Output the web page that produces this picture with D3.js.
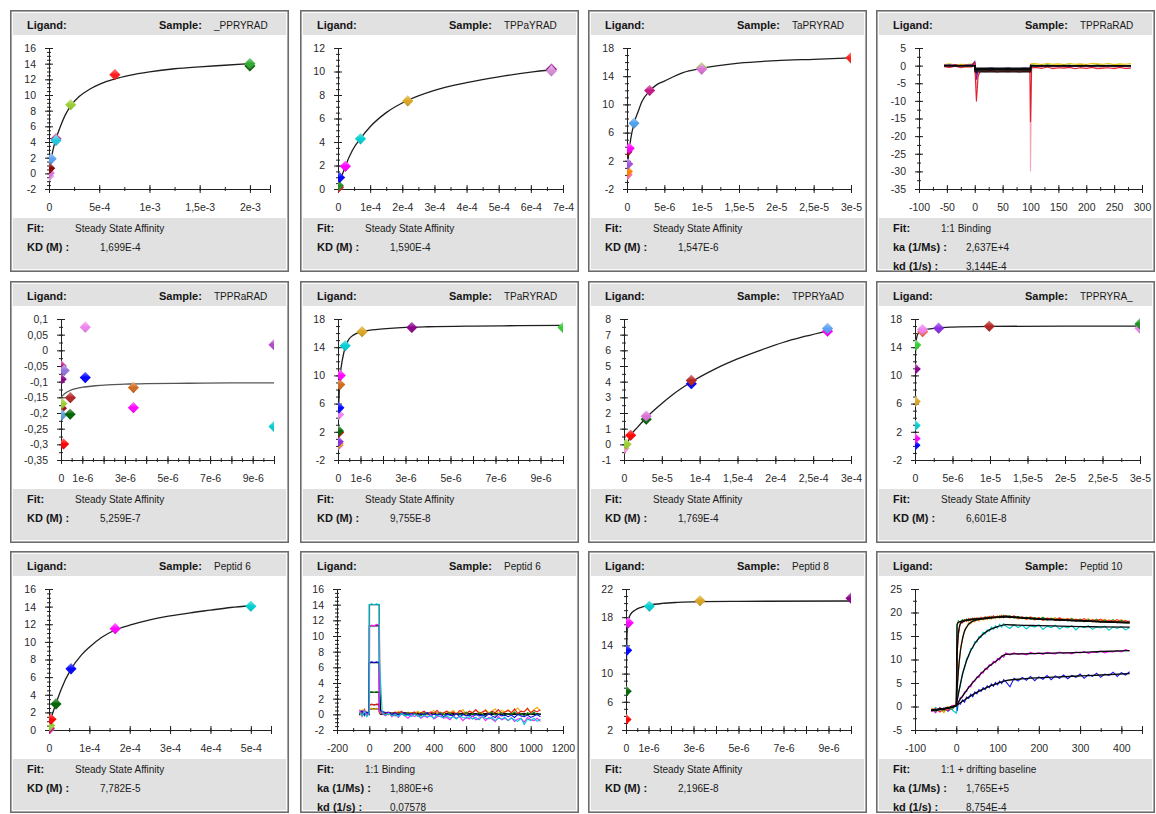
<!DOCTYPE html>
<html lang="en">
<head>
<meta charset="utf-8">
<title>Affinity and kinetics overview</title>
<script src="https://d3js.org/d3.v7.min.js"></script>
<style>
  body { margin: 0; background: #fff; }
  svg { font-family: 'Liberation Sans', Arial, sans-serif; }
  .lbl { font-weight: bold; font-size: 11px; fill: #151515; }
  .val { font-size: 10px; fill: #1a1a1a; }
</style>
</head>
<body>
<svg id="chart" width="1156" height="814"></svg>
<script>
// ---------- shared tick labels ----------
var ticksConc1e6 = [0, 1e-6, 3e-6, 5e-6, 7e-6, 9e-6];
var labelsConc1e6 = ["0", "1e-6", "3e-6", "5e-6", "7e-6", "9e-6"];
var ticksConc3e5 = [0, 5e-6, 1e-5, 1.5e-5, 2e-5, 2.5e-5, 3e-5];
var labelsConc3e5 = ["0", "5e-6", "1e-5", "1,5e-5", "2e-5", "2,5e-5", "3e-5"];
var ticksY18 = [-2, 2, 6, 10, 14, 18];

// ---------- panel 1 : _PPRYRAD ----------
var p1Conc = [2e-3, 2e-3, 6.56e-4, 2.16e-4, 7e-5, 7e-5, 2.2e-5, 7e-6, 2e-6, 0];
var p1Resp = [14.0, 13.7, 12.6, 8.75, 4.2, 4.4, 1.85, 0.65, 0.05, -0.35];
var p1FitConc = [0, 5e-6, 2e-5, 4e-5, 7e-5, 1.2e-4, 1.6e-4, 2.16e-4, 3e-4, 4e-4, 5e-4, 6.56e-4, 8e-4, 1e-3, 1.25e-3, 1.5e-3, 1.75e-3, 2e-3];
var p1FitResp = [0, 0.45, 1.7, 3.0, 4.4, 6.2, 7.4, 8.6, 9.8, 10.7, 11.35, 12.05, 12.5, 12.95, 13.35, 13.6, 13.8, 14.0];
var p1XTicks = [0, 5e-4, 1e-3, 1.5e-3, 2e-3];
var p1XLabels = ["0", "5e-4", "1e-3", "1,5e-3", "2e-3"];
var p1YTicks = [-2, 0, 2, 4, 6, 8, 10, 12, 14, 16];

// ---------- panel 2 : TPPaYRAD ----------
var p2Conc = [6.64e-4, 6.64e-4, 2.17e-4, 7e-5, 2.3e-5, 5e-6, 1e-6, 2e-6];
var p2Resp = [10.05, 10.2, 7.5, 4.27, 1.93, 0.98, 0.3, 0.15];
var p2FitConc = [0, 5e-6, 2.3e-5, 4.5e-5, 7e-5, 1e-4, 1.5e-4, 2.17e-4, 3e-4, 4e-4, 5e-4, 6e-4, 6.64e-4];
var p2FitResp = [0, 0.5, 1.95, 3.3, 4.3, 5.3, 6.5, 7.55, 8.4, 9.05, 9.55, 9.95, 10.15];
var p2XTicks = [0, 1e-4, 2e-4, 3e-4, 4e-4, 5e-4, 6e-4, 7e-4];
var p2XLabels = ["0", "1e-4", "2e-4", "3e-4", "4e-4", "5e-4", "6e-4", "7e-4"];
var p2YTicks = [0, 2, 4, 6, 8, 10, 12];

// ---------- panel 3 : TaPRYRAD ----------
var p3Conc = [3e-5, 1e-5, 1e-5, 3.03e-6, 9.4e-7, 3e-7, 0, 1e-7, 5e-8, 2e-8];
var p3Resp = [16.6, 15.0, 15.2, 11.97, 7.33, 3.77, 3.3, 1.55, 0.5, 0.03];
var p3FitConc = [0, 5e-8, 1.5e-7, 3e-7, 5e-7, 9.4e-7, 1.5e-6, 2e-6, 3.03e-6, 4e-6, 5e-6, 7.5e-6, 1e-5, 1.5e-5, 2e-5, 2.5e-5, 3e-5];
var p3FitResp = [0, 0.8, 2.2, 3.6, 5.1, 7.3, 9.0, 10.4, 11.9, 12.8, 13.3, 14.5, 15.1, 15.85, 16.2, 16.4, 16.6];

// ---------- panel 4 : TPPRaRAD (kinetics) ----------
var p4Time = [-55, -45, -35, -25, -15, -5, 0, 3, 6, 10, 20, 30, 40, 50, 60, 70, 80, 90, 99, 100, 102,
  110, 120, 130, 140, 150, 160, 170, 180, 190, 200, 210, 220, 230, 240, 250, 260, 270, 280];
var p4Pink = [-0.1, -0.4, 0.0, -0.3, -0.2, -0.1, 0.3, -6.5, -2.5, -1.5, -1.5, -1.4, -1.6, -1.5, -1.4, -1.6, -1.5, -1.4, -1.5, -30, -0.4,
  -0.3, -0.5, -0.2, -0.6, -0.4, -0.3, -0.6, -0.2, -0.5, -0.4, -0.3, -0.6, -0.4, -0.2, -0.5, -0.4, -0.3, -0.5];
var p4Green = [0.1, 0.3, 0.0, 0.2, 0.1, 0.3, 0.5, -2.0, -1.4, -1.2, -1.2, -1.3, -1.1, -1.2, -1.3, -1.1, -1.2, -1.3, -1.2, 0.0, 0.2,
  0.1, 0.0, 0.2, 0.1, 0.0, 0.2, 0.1, 0.0, 0.2, 0.1, 0.0, 0.2, 0.1, 0.0, 0.2, 0.1, 0.0, 0.1];
var p4Yellow = [0.3, 0.5, 0.2, 0.4, 0.3, 0.5, 0.9, -1.5, -1.1, -1.0, -1.0, -1.1, -0.9, -1.0, -1.1, -0.9, -1.0, -1.1, -1.0, 0.3, 0.6,
  0.5, 0.3, 0.6, 0.4, 0.5, 0.3, 0.6, 0.4, 0.5, 0.3, 0.6, 0.5, 0.4, 0.6, 0.3, 0.5, 0.4, 0.6];
var p4Blue = [0.0, 0.2, -0.1, 0.1, 0.0, 0.2, 0.8, -2.5, -1.0, -0.8, -0.8, -0.7, -0.9, -0.8, -0.7, -0.9, -0.8, -0.7, -0.8, -0.2, 0.0,
  -0.1, 0.1, -0.2, 0.0, -0.1, 0.1, -0.2, 0.0, -0.1, 0.1, -0.2, 0.0, -0.1, 0.1, -0.2, 0.0, -0.1, 0.0];
var p4Purple = [0.2, 0.0, 0.3, -0.1, 0.2, 0.1, 1.2, -4.0, -1.2, -0.9, -1.0, -0.9, -1.1, -1.0, -0.9, -1.1, -1.0, -0.9, -1.0, 0.2, 0.1,
  0.0, -0.2, 0.1, -0.1, 0.0, -0.2, 0.1, -0.1, -0.2, 0.0, -0.1, 0.1, -0.2, 0.0, -0.1, -0.2, 0.0, -0.1];
var p4Red = [-0.3, -0.5, -0.2, -0.6, -0.3, -0.4, 0.6, -10.2, -3.0, -1.6, -1.7, -1.5, -1.8, -1.6, -1.7, -1.5, -1.8, -1.6, -1.7, -16, -0.6,
  -0.5, -0.8, -0.4, -0.9, -0.6, -0.7, -0.5, -0.9, -0.6, -0.8, -0.5, -0.9, -0.7, -0.6, -0.9, -0.5, -0.8, -0.7];
var p4FitTime = [-55, 0, 0.5, 100, 100.5, 280];
var p4Fit1 = [0, 0, -0.7, -0.7, 0, 0];
var p4Fit2 = [0, 0, -0.9, -0.9, 0, 0];
var p4Fit3 = [0, 0, -1.1, -1.1, 0, 0];
var p4Fit4 = [0, 0, -1.3, -1.3, 0, 0];
var p4Fit5 = [0, 0, -1.8, -1.8, 0, 0];
var p4XTicks = [-100, -50, 0, 50, 100, 150, 200, 250, 300];
var p4YTicks = [-35, -30, -25, -20, -15, -10, -5, 0, 5];

// ---------- panel 5 : TPPRaRAD (affinity) ----------
var p5Conc = [1.14e-6, 1e-5, 1e-5, 1.14e-6, 3.4e-6, 3.4e-6, 4.4e-7, 4.3e-7, 1.2e-7, 4e-8, 4e-8, 2e-8, 1.5e-7, 1e-8, 1e-8];
var p5Resp = [0.074, 0.018, -0.243, -0.087, -0.119, -0.183, -0.151, -0.204, -0.299, -0.206, -0.17, -0.185, -0.064, -0.05, -0.092];
var p5FitConc = [0, 1e-7, 2e-7, 4e-7, 7e-7, 1.1e-6, 1.6e-6, 2.2e-6, 3e-6, 4e-6, 6e-6, 8e-6, 1e-5];
var p5FitResp = [-0.15, -0.143, -0.137, -0.129, -0.122, -0.117, -0.113, -0.11, -0.108, -0.106, -0.105, -0.104, -0.104];
var p5YTicks = [-0.35, -0.3, -0.25, -0.2, -0.15, -0.1, -0.05, 0, 0.05, 0.1];
var p5YLabels = ["-0,35", "-0,3", "-0,25", "-0,2", "-0,15", "-0,1", "-0,05", "0", "0,05", "0,1"];

// ---------- panel 6 : TPaRYRAD ----------
var p6Conc = [1e-5, 3.28e-6, 1.07e-6, 3.2e-7, 1e-7, 8e-8, 4e-8, 3e-8, 2e-8, 3e-8, 1e-8, 1e-8, 0];
var p6Resp = [16.8, 16.8, 16.2, 14.2, 10.0, 8.7, 5.4, 4.45, 2.1, 1.9, 0.6, 0.3, 0.1];
var p6FitConc = [0, 1e-8, 3e-8, 6e-8, 1e-7, 2e-7, 3.2e-7, 5e-7, 7e-7, 1.07e-6, 1.5e-6, 2e-6, 3e-6, 4e-6, 6e-6, 8e-6, 1e-5];
var p6FitResp = [1.0, 2.5, 5.5, 8.0, 10.0, 12.3, 14.0, 15.2, 15.75, 16.2, 16.45, 16.6, 16.8, 16.9, 17.0, 17.05, 17.1];

// ---------- panel 7 : TPPRYaAD ----------
var p7Conc = [2.69e-4, 2.69e-4, 8.9e-5, 8.9e-5, 2.94e-5, 2.94e-5, 8.8e-6, 2.7e-6, 0];
var p7Resp = [7.4, 7.22, 4.08, 3.87, 1.8, 1.6, 0.58, 0.01, -0.26];
var p7FitConc = [0, 3e-6, 8.8e-6, 1.8e-5, 2.94e-5, 4.5e-5, 6.5e-5, 8.9e-5, 1.2e-4, 1.5e-4, 1.8e-4, 2.1e-4, 2.4e-4, 2.69e-4];
var p7FitResp = [-0.3, -0.1, 0.55, 1.1, 1.7, 2.4, 3.2, 3.98, 4.8, 5.45, 6.0, 6.5, 6.9, 7.25];
var p7XTicks = [0, 5e-5, 1e-4, 1.5e-4, 2e-4, 2.5e-4, 3e-4];
var p7XLabels = ["0", "5e-5", "1e-4", "1,5e-4", "2e-4", "2,5e-4", "3e-4"];
var p7YTicks = [-1, 0, 1, 2, 3, 4, 5, 6, 7, 8];

// ---------- panel 8 : TPPRYRA_ ----------
var p8Conc = [3e-5, 3e-5, 9.9e-6, 3.15e-6, 1e-6, 1.02e-6, 1e-7, 4e-8, 3e-8, 2e-8, 1e-8, 0];
var p8Resp = [17.3, 16.7, 16.97, 16.7, 16.5, 16.2, 14.3, 10.9, 6.3, 2.9, 1.05, 0.1];
var p8FitConc = [0, 1e-8, 3e-8, 6e-8, 1e-7, 2e-7, 3e-7, 6e-7, 1e-6, 2e-6, 3.15e-6, 5e-6, 1e-5, 2e-5, 3e-5];
var p8FitResp = [0.5, 4, 9, 12.5, 14.1, 15.2, 15.7, 16.2, 16.4, 16.6, 16.75, 16.85, 16.95, 17.0, 17.0];

// ---------- panel 9 : Peptid 6 (affinity) ----------
var p9Conc = [5e-4, 1.64e-4, 5.45e-5, 1.74e-5, 5e-6, 2e-6, 1e-6, 0];
var p9Resp = [14.04, 11.5, 6.94, 2.96, 1.22, 0.5, 0.2, 0.05];
var p9FitConc = [0, 5e-6, 1.74e-5, 3e-5, 5.45e-5, 8e-5, 1e-4, 1.3e-4, 1.64e-4, 2e-4, 2.5e-4, 3e-4, 3.5e-4, 4e-4, 4.5e-4, 5e-4];
var p9FitResp = [0, 1.2, 3.0, 4.6, 6.9, 8.5, 9.4, 10.5, 11.35, 11.9, 12.5, 12.95, 13.3, 13.6, 13.9, 14.1];
var p9XTicks = [0, 1e-4, 2e-4, 3e-4, 4e-4, 5e-4];
var p9XLabels = ["0", "1e-4", "2e-4", "3e-4", "4e-4", "5e-4"];
var p9YTicks = [0, 2, 4, 6, 8, 10, 12, 14, 16];

// ---------- panel 10 : Peptid 6 (kinetics) ----------
var p10Time = [-60, -45, -30, -15, 0, 0, 15, 30, 45, 62, 62,
  80, 100, 120, 140, 160, 180, 200, 220, 240, 260, 280, 300, 320, 340, 360, 380, 400, 420, 440, 460, 480,
  500, 520, 540, 560, 580, 600, 620, 640, 660, 680, 700, 720, 740, 760, 780, 800, 820, 840, 860, 880,
  900, 920, 940, 960, 980, 1000, 1020, 1040, 1060];
var p10Orange = [-0.2, 0.3, 0.7, 0.0, 0.4, 0.7, 0.8, 0.6, 0.8, 0.7, 0.2,
  0.1, 0.3, -0.1, 0.2, 0.0, 0.4, 0.1, -0.1, 0.3, 0.2, 0.0, 0.4, 0.1, 0.3, -0.1, 0.2, 0.5, 0.1, 0.3, 0.0,
  0.4, 0.2, 0.5, 0.1, 0.3, 0.6, 0.0, 0.4, 0.2, 0.5, 0.3, 0.1, 0.6, 0.2, 0.4, 0.7, 0.1, 0.5, 0.3, 0.6,
  0.2, 0.5, 0.8, 0.3, 0.4, 0.7, 0.2, 0.6, 0.9, 0.4];
var p10Red = [0.6, 0.0, 0.5, -0.1, 0.3, 1.2, 1.3, 1.2, 1.3, 1.3, 0.4,
  0.3, 0.0, 0.2, -0.1, 0.3, 0.1, 0.4, 0.0, 0.2, 0.1, 0.3, -0.1, 0.2, 0.4, 0.0, 0.3, 0.1, 0.5, 0.0, 0.2,
  0.4, 0.1, 0.3, 0.0, 0.5, 0.2, 0.1, 0.4, 0.2, 0.6, 0.1, 0.3, 0.5, 0.0, 0.4, 0.2, 0.6, 0.1, 0.3, 0.5,
  0.2, 0.7, 0.1, 0.4, 0.3, 0.8, 0.2, 0.5, 0.3, 0.6];
var p10Green = [0.1, 0.5, -0.2, 0.3, 0.1, 2.8, 2.9, 2.8, 2.9, 2.8, 0.3,
  0.1, -0.1, 0.2, 0.0, -0.2, 0.1, 0.0, -0.1, 0.2, -0.1, 0.1, 0.0, -0.2, 0.2, 0.0, -0.1, 0.1, -0.2, 0.2, 0.0,
  -0.1, 0.2, -0.2, 0.1, 0.0, -0.1, 0.3, -0.2, 0.1, -0.1, 0.2, 0.0, -0.2, 0.1, 0.3, -0.1, 0.0, 0.2, -0.2, 0.1,
  0.0, 0.3, -0.1, 0.1, -0.2, 0.2, 0.0, 0.3, -0.1, 0.1];
var p10Blue = [0.2, 0.4, -0.1, 0.3, 0.0, 6.6, 6.7, 6.6, 6.7, 6.6, 0.6,
  0.4, 0.2, 0.3, 0.0, 0.2, -0.1, 0.1, 0.2, -0.1, 0.1, 0.0, -0.2, 0.1, -0.1, 0.2, -0.2, 0.0, -0.1, 0.1, -0.3,
  0.0, -0.1, -0.2, 0.1, -0.3, 0.0, -0.2, -0.1, -0.3, 0.0, -0.2, -0.1, -0.3, 0.1, -0.2, -0.4, 0.0, -0.2, -0.1, -0.3,
  -0.1, -0.4, 0.0, -0.2, -0.3, -0.1, -0.4, -0.2, 0.0, -0.3];
var p10Magenta = [0.5, -0.3, 0.6, -0.2, 0.2, 11.2, 11.4, 11.3, 11.5, 11.4, 0.3,
  0.1, -0.2, 0.2, -0.3, 0.0, -0.4, 0.1, -0.2, -0.5, 0.0, -0.3, -0.1, -0.5, -0.2, -0.4, 0.0, -0.6, -0.3, -0.2, -0.5,
  -0.4, -0.7, -0.2, -0.5, -0.3, -0.8, -0.4, -0.6, -0.2, -0.7, -0.5, -0.3, -0.8, -0.4, -0.6, -0.9, -0.3, -0.7, -0.5, -0.8,
  -0.4, -0.9, -0.6, -0.5, -1.0, -0.4, -0.7, -0.8, -0.5, -0.9];
var p10Cyan = [0.3, -0.2, 0.4, -0.3, 0.1, 14.0, 14.1, 14.0, 14.1, 14.0, 7.3,
  0.2, -0.1, 0.1, -0.2, 0.0, -0.3, 0.1, -0.2, -0.1, -0.3, 0.0, -0.2, -0.4, -0.1, -0.3, -0.2, -0.5, -0.1, -0.3, -0.4,
  -0.2, -0.5, -0.3, -0.6, -0.2, -0.4, -0.5, -0.3, -0.6, -0.4, -0.7, -0.3, -0.5, -0.6, -0.4, -0.8, -0.5, -0.6, -0.4, -0.8,
  -0.5, -0.7, -0.9, -0.5, -1.3, -0.6, -0.8, -0.5, -0.9, -0.6];
var p10FitTime = [-60, 0, 1, 62, 64, 68, 75, 1060];
var p10Fit1 = [0, 0, 14.0, 14.0, 3.0, 0.8, 0.2, 0];
var p10Fit2 = [0, 0, 11.3, 11.3, 2.4, 0.6, 0.15, 0];
var p10Fit3 = [0, 0, 6.6, 6.6, 1.4, 0.4, 0.1, 0];
var p10Fit4 = [0, 0, 2.8, 2.8, 0.6, 0.2, 0.05, 0];
var p10Fit5 = [0, 0, 1.25, 1.25, 0.3, 0.1, 0, 0];
var p10Fit6 = [0, 0, 0.7, 0.7, 0.15, 0.05, 0, 0];
var p10XTicks = [-200, 0, 200, 400, 600, 800, 1000, 1200];
var p10YTicks = [-2, 0, 2, 4, 6, 8, 10, 12, 14, 16];

// ---------- panel 11 : Peptid 8 ----------
var p11Conc = [1e-5, 3.29e-6, 1.04e-6, 1e-7, 3e-8, 1e-8, 0];
var p11Resp = [20.7, 20.34, 19.55, 17.2, 13.3, 7.5, 3.5];
var p11FitConc = [0, 5e-9, 1e-8, 2e-8, 4e-8, 8e-8, 2e-7, 4e-7, 6.7e-7, 1.04e-6, 1.6e-6, 2.3e-6, 3.3e-6, 5e-6, 1e-5];
var p11FitResp = [2.5, 5, 8, 11.5, 15, 17.4, 18.4, 19.0, 19.4, 19.7, 19.95, 20.1, 20.2, 20.25, 20.3];
var p11YTicks = [2, 6, 10, 14, 18, 22];

// ---------- panel 12 : Peptid 10 (kinetics) ----------
var p12Time = [-60, -50, -40, -30, -20, -10, 0,
  2, 5, 10, 15, 20, 25, 30, 35, 40, 45, 50, 55, 60, 65, 70, 75, 80, 85, 90, 95, 100, 105, 110, 115, 120,
  130, 140, 150, 160, 170, 180, 190, 200, 210, 220, 230, 240, 250, 260, 270, 280, 290, 300,
  310, 320, 330, 340, 350, 360, 370, 380, 390, 400, 410, 420];
var p12Blue = [-1.1, -0.5, -0.9, -0.3, -1.0, -0.2, 0.1,
  -1.0, 0.8, 0.5, 1.4, 0.9, 2.0, 1.7, 2.6, 2.1, 3.1, 2.7, 3.6, 3.2, 4.0, 3.6, 4.4, 4.0, 4.8, 4.3, 5.1, 4.6, 5.4, 4.9, 5.7, 5.3,
  4.2, 6.0, 5.4, 6.2, 5.6, 6.4, 5.5, 6.3, 5.8, 6.6, 5.7, 6.5, 6.0, 6.7, 5.9, 6.6, 6.2, 6.9, 6.0, 6.8,
  6.4, 7.1, 6.2, 6.9, 6.6, 7.3, 6.4, 7.2, 6.7, 7.4];
var p12Magenta = [-0.6, -1.3, -0.2, -0.8, -0.5, 0.2, 0.3,
  0.7, 0.6, 1.9, 2.0, 3.1, 3.2, 4.3, 4.2, 5.3, 5.4, 6.3, 6.2, 7.3, 7.1, 8.1, 7.9, 8.9, 8.7, 9.6, 9.3, 10.2, 9.9, 10.8, 10.5, 11.4,
  11.0, 11.4, 11.1, 11.3, 11.0, 11.5, 11.2, 11.4, 11.1, 11.5, 11.3, 11.2, 11.6, 11.3, 11.5, 11.2, 11.6, 11.4, 11.7, 11.3,
  11.6, 11.5, 11.8, 11.4, 11.7, 11.6, 11.9, 11.6, 12.1, 11.8];
var p12Cyan = [-0.9, -0.2, -1.0, -0.6, -0.1, -0.7, -1.4,
  1.0, 2.9, 4.5, 7.1, 8.1, 10.2, 10.6, 12.3, 12.4, 13.8, 13.7, 14.9, 14.7, 15.8, 15.4, 16.3, 16.0, 16.9, 16.4, 17.2, 16.7, 17.5, 16.9, 17.6, 17.1,
  16.6, 17.4, 16.8, 17.3, 16.5, 17.2, 16.9, 17.4, 16.4, 17.1, 16.8, 17.3, 16.5, 17.0, 16.7, 17.2, 16.3, 17.1, 16.8, 17.2,
  16.4, 16.9, 16.7, 17.1, 16.2, 16.9, 16.6, 17.0, 16.3, 16.8];
var p12Orange = [-0.3, -0.9, -0.5, -1.3, 0.0, -0.4, 0.4,
  3.9, 7.2, 12.1, 14.1, 16.3, 16.7, 17.8, 17.6, 18.4, 18.0, 18.7, 18.2, 18.9, 18.4, 19.0, 18.5, 19.1, 18.6, 19.2, 18.7, 19.3, 18.8, 19.2, 18.9, 19.3,
  18.8, 19.2, 18.6, 19.0, 18.5, 19.1, 18.4, 18.9, 18.3, 18.8, 18.5, 18.9, 18.2, 18.7, 18.4, 18.8, 18.1, 18.6, 18.3, 18.7,
  18.0, 18.5, 18.2, 18.6, 17.9, 18.4, 18.1, 18.5, 17.8, 18.2];
var p12Red = [-1.0, -0.4, -1.2, -0.5, -0.8, 0.1, 0.2,
  10.8, 15.2, 17.9, 17.8, 18.5, 18.1, 18.7, 18.3, 18.8, 18.4, 18.9, 18.5, 19.0, 18.6, 19.1, 18.7, 19.2, 18.8, 19.3, 18.9, 19.2, 19.0, 19.4, 18.9, 19.3,
  19.0, 19.3, 18.8, 19.1, 18.6, 19.0, 18.5, 18.9, 18.4, 18.8, 18.6, 18.3, 18.9, 18.4, 18.7, 18.2, 18.6, 18.3, 18.7, 18.1,
  18.5, 18.2, 18.6, 18.0, 18.4, 18.1, 18.5, 17.9, 18.3, 18.0];
var p12Green = [-0.5, -1.1, -0.3, -0.9, -0.2, -0.6, 0.3,
  17.3, 18.2, 17.9, 18.5, 18.1, 18.6, 18.2, 18.7, 18.3, 18.8, 18.4, 18.9, 18.5, 18.8, 18.6, 19.1, 18.7, 19.2, 18.8, 19.1, 18.9, 19.3, 19.0, 19.4, 19.1,
  19.3, 18.8, 19.2, 18.7, 19.0, 18.6, 18.9, 18.5, 19.0, 18.4, 18.8, 18.3, 18.7, 18.5, 18.2, 18.7, 18.1, 18.6, 18.0, 18.5,
  18.1, 18.6, 17.9, 18.4, 18.0, 18.5, 17.8, 18.3, 17.9, 18.2];
var p12FitTime = [-60, 0, 2, 5, 10, 15, 20, 30, 45, 60, 80, 100, 120, 150, 200, 250, 300, 350, 420];
var p12Fit1 = [-0.8, 0.2, 17.5, 17.9, 18.1, 18.2, 18.3, 18.5, 18.6, 18.7, 18.9, 19.0, 19.2, 19.0, 18.7, 18.5, 18.3, 18.1, 17.9];
var p12Fit2 = [-0.8, 0.2, 10.5, 15.5, 17.6, 18.0, 18.2, 18.4, 18.6, 18.7, 18.9, 19.0, 19.1, 18.9, 18.6, 18.4, 18.2, 18.0, 17.8];
var p12Fit3 = [-0.8, 0.2, 3.5, 7.5, 11.8, 14.4, 16.0, 17.5, 18.3, 18.6, 18.8, 18.95, 19.05, 18.9, 18.6, 18.4, 18.2, 18.0, 17.8];
var p12Fit4 = [-0.8, 0.2, 1.2, 2.6, 4.8, 6.8, 8.4, 10.9, 13.4, 15.0, 16.3, 17.0, 17.4, 17.3, 17.2, 17.1, 17.0, 16.95, 16.9];
var p12Fit5 = [-0.8, 0.2, 0.5, 0.9, 1.6, 2.2, 2.8, 4.0, 5.6, 7.0, 8.6, 9.9, 11.1, 11.2, 11.3, 11.4, 11.5, 11.7, 11.9];
var p12Fit6 = [-0.8, 0.2, 0.3, 0.5, 0.8, 1.1, 1.4, 2.0, 2.8, 3.5, 4.3, 4.9, 5.5, 5.8, 6.1, 6.3, 6.5, 6.7, 7.0];
var p12XTicks = [-100, 0, 100, 200, 300, 400];
var p12YTicks = [-5, 0, 5, 10, 15, 20, 25];

// ---------- panel setup (layout + styling) ----------
var SSA = "Steady State Affinity";
var panels = [
  { sample: "_PPRYRAD", fit: SSA, params: [["KD (M) :", "1,699E-4"]],
    xDom: [0, 2.2e-3], xPx: [39, 260], xMajor: 5e-4, xMinor: 2.5e-4, xLab: p1XTicks, xLabTxt: p1XLabels,
    yDom: [-2, 16], yMinor: 0.5, yLab: p1YTicks,
    pts: { x: p1Conc, y: p1Resp, c: ["#2ea82e", "#0b600b", "#ff1a1a", "#9acd32", "#20c8e0", "#c7208a", "#5aa0f0", "#8b0000", "#da70d6", "#e8a0e8"] },
    fits: [[p1FitConc, p1FitResp]] },
  { sample: "TPPaYRAD", fit: SSA, params: [["KD (M) :", "1,590E-4"]],
    xDom: [0, 7e-4], xPx: [38, 263], xMajor: 1e-4, xMinor: 5e-5, xLab: p2XTicks, xLabTxt: p2XLabels,
    yDom: [0, 12], yMinor: 0.5, yLab: p2YTicks,
    pts: { x: p2Conc, y: p2Resp, c: ["#d48cd4", "#8b008b", "#daa520", "#00ced1", "#ff00ff", "#0000ff", "#228b22", "#dd2222"] },
    fits: [[p2FitConc, p2FitResp]] },
  { sample: "TaPRYRAD", fit: SSA, params: [["KD (M) :", "1,547E-6"]],
    xDom: [0, 3e-5], xPx: [39, 263], xMajor: 5e-6, xMinor: 2.5e-6, xLab: ticksConc3e5, xLabTxt: labelsConc3e5,
    yDom: [-2, 18], yMinor: 1, yLab: ticksY18,
    pts: { x: p3Conc, y: p3Resp, c: ["#ff1a1a", "#da70d6", "#9acd32", "#c71585", "#4f9fe8", "#ff00ff", "#8b0000", "#a050e0", "#ff7f00", "#ff69b4"] },
    fits: [[p3FitConc, p3FitResp]] },
  { sample: "TPPRaRAD", fit: "1:1 Binding", params: [["ka (1/Ms) :", "2,637E+4"], ["kd (1/s) :", "3,144E-4"]],
    xDom: [-100, 300], xPx: [43, 266], xMajor: 50, xMinor: 25, xLab: p4XTicks,
    yDom: [-35, 5], yMinor: 2.5, yLab: p4YTicks,
    curves: { t: p4Time, ys: [p4Pink, p4Green, p4Yellow, p4Blue, p4Purple, p4Red],
              c: ["#f4a6b4", "#22a022", "#e8c000", "#2020d0", "#8b1a8b", "#e0202c"] },
    sfits: { t: p4FitTime, ys: [p4Fit1, p4Fit2, p4Fit3, p4Fit4, p4Fit5] } },
  { sample: "TPPRaRAD", fit: SSA, params: [["KD (M) :", "5,259E-7"]],
    xDom: [0, 1e-5], xPx: [51, 264], xMajor: 1e-6, xMinor: 5e-7, xLab: ticksConc1e6, xLabTxt: labelsConc1e6,
    yDom: [-0.35, 0.1], yMinor: 0.025, yLab: p5YTicks, yLabTxt: p5YLabels,
    pts: { x: p5Conc, y: p5Resp, c: ["#ee82ee", "#b048c8", "#00ced1", "#0000ff", "#d2691e", "#ff00ff", "#b22222", "#006400", "#ff0000", "#5b9bd5", "#9acd32", "#a01010", "#9370db", "#c71585", "#8b008b"] },
    fits: [[p5FitConc, p5FitResp]], fitColor: "#555" },
  { sample: "TPaRYRAD", fit: SSA, params: [["KD (M) :", "9,755E-8"]],
    xDom: [0, 1e-5], xPx: [38, 263], xMajor: 1e-6, xMinor: 5e-7, xLab: ticksConc1e6, xLabTxt: labelsConc1e6,
    yDom: [-2, 18], yMinor: 1, yLab: ticksY18,
    pts: { x: p6Conc, y: p6Resp, c: ["#32cd32", "#8b008b", "#daa520", "#00ced1", "#ff00ff", "#d2691e", "#0000ff", "#ee82ee", "#006400", "#e01010", "#8a2be2", "#ffa500", "#da70d6"] },
    fits: [[p6FitConc, p6FitResp]] },
  { sample: "TPPRYaAD", fit: SSA, params: [["KD (M) :", "1,769E-4"]],
    xDom: [0, 3e-4], xPx: [36, 263], xMajor: 5e-5, xMinor: 2.5e-5, xLab: p7XTicks, xLabTxt: p7XLabels,
    yDom: [-1, 8], yMinor: 0.5, yLab: p7YTicks,
    pts: { x: p7Conc, y: p7Resp, c: ["#5aa0f0", "#ff00ff", "#b22222", "#0000ff", "#da70d6", "#006400", "#ff0000", "#9acd32", "#ff9ad2"] },
    fits: [[p7FitConc, p7FitResp]] },
  { sample: "TPPRYRA_", fit: SSA, params: [["KD (M) :", "6,601E-8"]],
    xDom: [0, 3e-5], xPx: [39, 264], xMajor: 5e-6, xMinor: 2.5e-6, xLab: ticksConc3e5, xLabTxt: labelsConc3e5,
    yDom: [-2, 18], yMinor: 1, yLab: ticksY18,
    pts: { x: p8Conc, y: p8Resp, c: ["#1f8f1f", "#ee82ee", "#b22222", "#8a2be2", "#ee82ee", "#ff6347", "#32cd32", "#8b008b", "#daa520", "#00ced1", "#ff00ff", "#0000ff"] },
    fits: [[p8FitConc, p8FitResp]] },
  { sample: "Peptid 6", fit: SSA, params: [["KD (M) :", "7,782E-5"]],
    xDom: [0, 5.5e-4], xPx: [39, 261], xMajor: 1e-4, xMinor: 5e-5, xLab: p9XTicks, xLabTxt: p9XLabels,
    yDom: [0, 16], yMinor: 0.5, yLab: p9YTicks,
    pts: { x: p9Conc, y: p9Resp, c: ["#00ced1", "#ff00ff", "#0000ff", "#006400", "#ff0000", "#9acd32", "#c71585", "#ff69b4"] },
    fits: [[p9FitConc, p9FitResp]] },
  { sample: "Peptid 6", fit: "1:1 Binding", params: [["ka (1/Ms) :", "1,880E+6"], ["kd (1/s) :", "0,07578"]],
    xDom: [-200, 1200], xPx: [37, 263], xMajor: 200, xMinor: 100, xLab: p10XTicks,
    yDom: [-2, 16], yMinor: 0.5, yLab: p10YTicks,
    curves: { t: p10Time, ys: [p10Orange, p10Red, p10Green, p10Blue, p10Magenta, p10Cyan],
              c: ["#f0b000", "#e82020", "#1a8a1a", "#1010e0", "#ff20ff", "#00c8d8"] },
    sfits: { t: p10FitTime, ys: [p10Fit1, p10Fit2, p10Fit3, p10Fit4, p10Fit5, p10Fit6] }, dataOnTop: true },
  { sample: "Peptid 8", fit: SSA, params: [["KD (M) :", "2,196E-8"]],
    xDom: [0, 1e-5], xPx: [38, 263], xMajor: 1e-6, xMinor: 5e-7, xLab: ticksConc1e6, xLabTxt: labelsConc1e6,
    yDom: [2, 22], yMinor: 1, yLab: p11YTicks,
    pts: { x: p11Conc, y: p11Resp, c: ["#8b008b", "#daa520", "#00ced1", "#ff00ff", "#0000ff", "#006400", "#ff0000"] },
    fits: [[p11FitConc, p11FitResp]] },
  { sample: "Peptid 10", fit: "1:1 + drifting baseline", params: [["ka (1/Ms) :", "1,765E+5"], ["kd (1/s) :", "8,754E-4"]],
    xDom: [-100, 450], xPx: [39, 266], xMajor: 100, xMinor: 50, xLab: p12XTicks,
    yDom: [-5, 25], yMinor: 2.5, yLab: p12YTicks,
    curves: { t: p12Time, ys: [p12Blue, p12Magenta, p12Cyan, p12Orange, p12Green, p12Red],
              c: ["#1414f0", "#ff00ff", "#00c8d0", "#ff9a00", "#1a9a1a", "#ff2020"] },
    sfits: { t: p12FitTime, ys: [p12Fit1, p12Fit2, p12Fit3, p12Fit4, p12Fit5, p12Fit6] }, smoothFits: true }
];

var LEFTS = [10, 300, 588, 876], TOPS = [10, 281, 551];
var PW = 279, PH = 262, AX_TOP = 38, AX_BOT = 179;
var svg = d3.select("#chart");

// soft shading on the diamonds
var grad = svg.append("defs").append("linearGradient").attr("id", "shade")
  .attr("x1", 0).attr("y1", 0).attr("x2", 1).attr("y2", 1);
grad.append("stop").attr("offset", "0%").attr("stop-color", "#fff").attr("stop-opacity", 0.45);
grad.append("stop").attr("offset", "50%").attr("stop-color", "#fff").attr("stop-opacity", 0);
grad.append("stop").attr("offset", "100%").attr("stop-color", "#000").attr("stop-opacity", 0.2);

function multiples(dom, step) {
  var a = Math.ceil(dom[0] / step - 1e-6), b = Math.floor(dom[1] / step + 1e-6);
  return d3.range(a, b + 1).map(function(k) { return k * step; });
}

function styleAxis(sel) {
  sel.attr("font-family", null).attr("font-size", null).style("color", "#222");
  sel.selectAll("text").attr("font-size", 10.5).attr("fill", "#2a2a2a");
}

function noDomain(sel) { sel.select(".domain").remove(); }

function drawPanel(p, i) {
  var L = LEFTS[i % 4], T = TOPS[Math.floor(i / 4)];
  var g = svg.append("g").attr("transform", "translate(" + L + "," + T + ")");

  // frame
  g.append("rect").attr("x", 0.75).attr("y", 0.75).attr("width", PW - 1.5).attr("height", PH - 1.5)
    .attr("fill", "#e1e1e1").attr("stroke", "#6c6c6c").attr("stroke-width", 1.5);
  g.append("rect").attr("x", 2.5).attr("y", 2.5).attr("width", PW - 5).attr("height", PH - 5)
    .attr("fill", "none").attr("stroke", "#fafafa");
  g.append("rect").attr("x", 3).attr("y", 25).attr("width", PW - 6).attr("height", 183).attr("fill", "#fff");

  // header and footer texts
  g.append("text").attr("class", "lbl").attr("x", 17).attr("y", 19).text("Ligand:");
  g.append("text").attr("class", "lbl").attr("x", 149).attr("y", 19).text("Sample:");
  g.append("text").attr("class", "val").attr("x", 204).attr("y", 19).text(p.sample);
  g.append("text").attr("class", "lbl").attr("x", 17).attr("y", 222).text("Fit:");
  g.append("text").attr("class", "val").attr("x", 65).attr("y", 222).text(p.fit);
  p.params.forEach(function(q, k) {
    g.append("text").attr("class", "lbl").attr("x", 17).attr("y", 241 + 19 * k).text(q[0]);
    g.append("text").attr("class", "val").attr("x", 90).attr("y", 241 + 19 * k).text(q[1]);
  });

  var x = d3.scaleLinear().domain(p.xDom).range(p.xPx);
  var y = d3.scaleLinear().domain(p.yDom).range([AX_BOT, AX_TOP]);

  // x axis
  var xMaj = multiples(p.xDom, p.xMajor).concat([p.xDom[1]]);
  var xMin = multiples(p.xDom, p.xMinor);
  var xa = g.append("g").attr("transform", "translate(0," + AX_BOT + ")");
  xa.append("g").call(d3.axisBottom(x).tickValues(p.xLab).tickSize(0).tickSizeOuter(0).tickPadding(15)
    .tickFormat(function(d, k) { return p.xLabTxt ? p.xLabTxt[k] : String(d); })).call(styleAxis);
  xa.append("g").call(d3.axisBottom(x).tickValues(xMaj).tickSize(4).tickFormat("")).call(noDomain).call(styleAxis);
  xa.append("g").call(d3.axisTop(x).tickValues(xMaj).tickSize(4).tickFormat("")).call(noDomain).call(styleAxis);
  xa.append("g").call(d3.axisBottom(x).tickValues(xMin).tickSize(2).tickFormat("")).call(noDomain).call(styleAxis);
  xa.append("g").call(d3.axisTop(x).tickValues(xMin).tickSize(2).tickFormat("")).call(noDomain).call(styleAxis);

  // y axis
  var yMin = multiples(p.yDom, p.yMinor);
  var ya = g.append("g").attr("transform", "translate(" + p.xPx[0] + ",0)");
  ya.append("g").call(d3.axisLeft(y).tickValues(p.yLab).tickSize(0).tickSizeOuter(0).tickPadding(13)
    .tickFormat(function(d, k) { return p.yLabTxt ? p.yLabTxt[k] : String(d); })).call(styleAxis);
  ya.append("g").call(d3.axisLeft(y).tickValues(p.yLab).tickSize(4).tickFormat("")).call(noDomain).call(styleAxis);
  ya.append("g").call(d3.axisRight(y).tickValues(p.yLab).tickSize(4).tickFormat("")).call(noDomain).call(styleAxis);
  ya.append("g").call(d3.axisLeft(y).tickValues(yMin).tickSize(2).tickFormat("")).call(noDomain).call(styleAxis);
  ya.append("g").call(d3.axisRight(y).tickValues(yMin).tickSize(2).tickFormat("")).call(noDomain).call(styleAxis);

  // clipped plot content
  var cid = "clip" + i;
  g.append("clipPath").attr("id", cid).append("rect")
    .attr("x", p.xPx[0]).attr("y", 26).attr("width", p.xPx[1] - p.xPx[0]).attr("height", AX_BOT - 26 + 4);
  var dg = g.append("g").attr("clip-path", "url(#" + cid + ")");

  if (p.curves) {
    var line = d3.line().x(function(d) { return x(d[0]); }).y(function(d) { return y(d[1]); });
    var fitLine = d3.line().curve(p.smoothFits ? d3.curveMonotoneX : d3.curveLinear)
      .x(function(d) { return x(d[0]); }).y(function(d) { return y(d[1]); });
    var drawData = function() {
      p.curves.ys.forEach(function(vals, k) {
        dg.append("path").attr("d", line(d3.zip(p.curves.t, vals)))
          .attr("fill", "none").attr("stroke", p.curves.c[k]).attr("stroke-width", 1.1);
      });
    };
    var drawFits = function() {
      p.sfits.ys.forEach(function(vals) {
        dg.append("path").attr("d", fitLine(d3.zip(p.sfits.t, vals)))
          .attr("fill", "none").attr("stroke", "#0a0a0a").attr("stroke-width", 1.3);
      });
    };
    if (p.dataOnTop) { drawFits(); drawData(); } else { drawData(); drawFits(); }
  }

  if (p.fits) {
    var curve = d3.line().curve(d3.curveMonotoneX)
      .x(function(d) { return x(d[0]); }).y(function(d) { return y(d[1]); });
    p.fits.forEach(function(f) {
      dg.append("path").attr("d", curve(d3.zip(f[0], f[1])))
        .attr("fill", "none").attr("stroke", p.fitColor || "#1e1e1e").attr("stroke-width", 1.3);
    });
  }

  if (p.pts) {
    var diamond = d3.symbol().type(d3.symbolSquare).size(62);
    var data = p.pts.x.map(function(v, k) { return { c: v, r: p.pts.y[k], col: p.pts.c[k] }; });
    // draw in reverse so the first listed sits on top
    var mk = dg.selectAll("g.pt").data(data.slice().reverse()).join("g").attr("class", "pt")
      .attr("transform", function(d) { return "translate(" + x(d.c) + "," + y(d.r) + ") rotate(45)"; });
    mk.append("path").attr("d", diamond).attr("fill", function(d) { return d.col; });
    mk.append("path").attr("d", diamond).attr("fill", "url(#shade)");
  }
}

panels.forEach(drawPanel);
</script>
</body>
</html>
